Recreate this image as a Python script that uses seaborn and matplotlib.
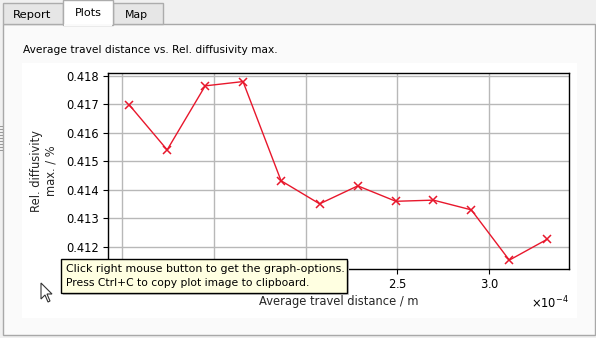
import matplotlib
matplotlib.use("Agg")
import matplotlib.pyplot as plt
from matplotlib.patches import Rectangle, Polygon
from matplotlib.ticker import MultipleLocator, FormatStrFormatter, ScalarFormatter
import seaborn as sns
import pandas as pd

# ---- data ----
travel_distance_m = [1.040e-4, 1.246e-4, 1.453e-4, 1.659e-4, 1.866e-4, 2.076e-4,
                     2.284e-4, 2.491e-4, 2.696e-4, 2.902e-4, 3.109e-4, 3.315e-4]
rel_diffusivity_max = [0.41697, 0.41540, 0.41764, 0.41779, 0.41432, 0.41351,
                       0.41414, 0.41360, 0.41364, 0.41330, 0.41154, 0.41227]

title_text = "Average travel distance vs. Rel. diffusivity max."
xlabel_text = "Average travel distance / m"
ylabel_text = "Rel. diffusivity\nmax. / %"
tab_labels = ["Report", "Plots", "Map"]
tooltip_lines = ["Click right mouse button to get the graph-options.",
                 "Press Ctrl+C to copy plot image to clipboard."]
# x tick labels left of this value are hidden behind the tooltip in the reference
hidden_below = 2.25e-4

sns.set_style("ticks")
plt.rcParams["font.family"] = ["DejaVu Sans"]

W, H = 596, 338
fig = plt.figure(figsize=(W / 100, H / 100), dpi=100)
fig.patch.set_facecolor("#f0f0f0")


def fx(x):
    return x / W


def fy(y):
    return 1 - y / H


def rect(x0, y0, x1, y1, fc, ec="none", lw=1.0, z=-5):
    r = Rectangle((fx(x0), fy(y1)), (x1 - x0) / W, (y1 - y0) / H,
                  transform=fig.transFigure, facecolor=fc, edgecolor=ec,
                  linewidth=lw, zorder=z)
    fig.add_artist(r)
    return r


def fit_text(x, y, s, width, ha="left", va="center", z=-1, size=8, color="black"):
    t = fig.text(fx(x), fy(y), s, ha=ha, va=va, fontsize=size, color=color, zorder=z)
    fig.canvas.draw()
    w = t.get_window_extent().width
    t.set_fontsize(size * width / w)
    return t


class CoveredFormatter(ScalarFormatter):
    def __call__(self, x, pos=None):
        if x < hidden_below:
            return ""
        return super().__call__(x, pos)


# tab page frame and contents
rect(3, 24, 595, 335, "#fafafa", "#a8a8a8", 1.0, z=-6)
rect(22, 63, 577, 318, "#ffffff", z=-5)

# tabs
rect(3, 3, 63, 24, "#e6e6e6", "#acacac", 1.0, z=-4)
rect(113, 3, 163, 24, "#e6e6e6", "#acacac", 1.0, z=-4)
rect(63, 0, 113, 25, "#ffffff", "#acacac", 1.0, z=-3)
rect(64, 23.5, 112, 26, "#fafafa", z=-2)
fit_text(13, 15, tab_labels[0], 38)
fit_text(75, 13, tab_labels[1], 27)
fit_text(125, 15, tab_labels[2], 23)

# left grip
for gy in range(126, 151, 3):
    rect(0, gy, 3, gy + 1, "#9a9a9a", z=-4)

# title
fit_text(23, 50, title_text, 255)

# ---- axes ----
ax_l, ax_r, ax_t, ax_b = 108, 569, 73, 269
ax = fig.add_axes([fx(ax_l), fy(ax_b), (ax_r - ax_l) / W, (ax_b - ax_t) / H])
ax.set_facecolor("white")

df = pd.DataFrame({"x": travel_distance_m, "y": rel_diffusivity_max})
sns.lineplot(data=df, x="x", y="y", ax=ax, color="#e8172c", linewidth=1.0,
             marker="x", markersize=6.0, markeredgewidth=1.1,
             markeredgecolor="#e8172c")

ax.set_xlim(0.9238e-4, 3.434e-4)
ax.set_ylim(0.41123, 0.41809)
ax.xaxis.set_major_locator(MultipleLocator(0.5e-4))
fmt = CoveredFormatter(useMathText=True)
fmt.set_powerlimits((0, 0))
ax.xaxis.set_major_formatter(fmt)
ax.yaxis.set_major_locator(MultipleLocator(0.001))
ax.yaxis.set_major_formatter(FormatStrFormatter("%.3f"))

ax.grid(True, color="#b8b8b8", linewidth=1.0)
ax.set_axisbelow(True)
for sp in ax.spines.values():
    sp.set_color("black")
    sp.set_linewidth(1.0)
ax.tick_params(axis="both", labelsize=8.3, length=3.5, width=0.8, colors="black", pad=3)
ax.xaxis.get_offset_text().set_fontsize(8.3)

ax.set_xlabel(xlabel_text, fontsize=8.3, labelpad=3)
ax.set_ylabel(ylabel_text, fontsize=8.3, labelpad=6)

# ---- tooltip ----
rect(63, 261, 349, 295, "#c8c8c8", z=9)
rect(61, 259, 347, 293, "#ffffe1", "#000000", 1.0, z=10)
fit_text(66, 269.5, tooltip_lines[0], 277, z=11)
fit_text(66, 283.5, tooltip_lines[1], 243, z=11)

# mouse cursor
cur = [(41, 283), (41, 299), (45, 295), (48, 302), (50, 301), (47, 294), (52, 294)]
fig.add_artist(Polygon([(fx(a), fy(b)) for a, b in cur], closed=True,
                       transform=fig.transFigure, facecolor="white",
                       edgecolor="#333333", linewidth=0.8, zorder=12))

fig.savefig("out.png", dpi=100, facecolor=fig.get_facecolor())
